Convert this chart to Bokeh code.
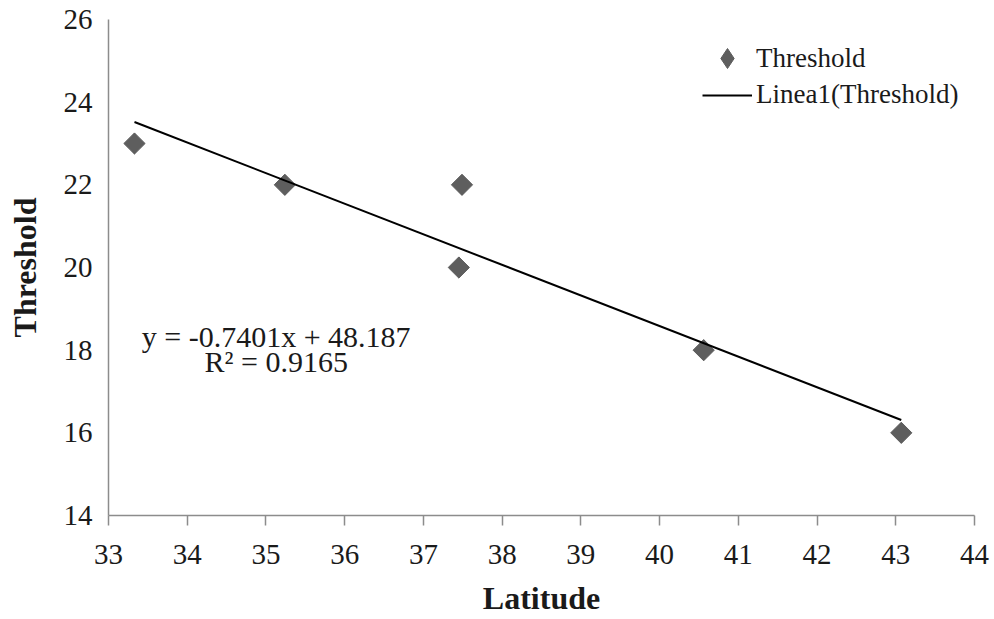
import math
from bokeh.plotting import figure
from bokeh.models import Range1d, FixedTicker, Label, Legend, LegendItem
from bokeh.embed import file_html
from bokeh.resources import INLINE

# ---- data ----
latitude = [33.33, 35.24, 37.49, 37.45, 40.56, 43.07]
threshold = [23, 22, 22, 20, 18, 16]
slope = -0.7401
intercept = 48.187
r_squared = 0.9165
x_ticks = list(range(33, 45))
y_ticks = list(range(14, 27, 2))

trend_x = [min(latitude), max(latitude)]
trend_y = [slope * v + intercept for v in trend_x]

FONT = "Liberation Serif"
TICK_FONT = "Times New Roman"
TXT = "#1a1a1a"
MARK = "#5e5e5e"

p = figure(width=994, height=619, output_backend="svg", toolbar_location=None,
           x_range=Range1d(33, 44), y_range=Range1d(14, 26),
           min_border_left=108, min_border_right=20, min_border_top=19, min_border_bottom=104)
p.outline_line_color = None
p.xgrid.visible = False
p.ygrid.visible = False
p.background_fill_color = "white"
p.border_fill_color = "white"

xa = p.xaxis[0]
xa.ticker = FixedTicker(ticks=x_ticks)
xa.axis_line_color = "#8c8c8c"
xa.axis_line_width = 1.5
xa.major_tick_line_color = "#8c8c8c"
xa.major_tick_line_width = 1.5
xa.major_tick_in = 0
xa.major_tick_out = 10
xa.minor_tick_line_color = None
xa.major_label_text_font = TICK_FONT
xa.major_label_text_font_size = "29px"
xa.major_label_text_color = TXT
xa.major_label_standoff = 19
xa.axis_label = "Latitude"
xa.axis_label_text_font = FONT
xa.axis_label_text_font_style = "bold"
xa.axis_label_text_font_size = "32px"
xa.axis_label_text_color = TXT
xa.axis_label_standoff = 13

ya = p.yaxis[0]
ya.ticker = FixedTicker(ticks=y_ticks)
ya.axis_line_color = "#8c8c8c"
ya.axis_line_width = 1.5
ya.major_tick_line_color = None
ya.major_tick_in = 0
ya.major_tick_out = 0
ya.minor_tick_line_color = None
ya.major_label_text_font = TICK_FONT
ya.major_label_text_font_size = "29px"
ya.major_label_text_color = TXT
ya.major_label_standoff = 16
ya.axis_label = "Threshold"
ya.axis_label_text_font = FONT
ya.axis_label_text_font_style = "bold"
ya.axis_label_text_font_size = "32px"
ya.axis_label_text_color = TXT
ya.axis_label_standoff = 18

# diamond glyph used for the legend entry (sits fully underneath the plotted markers)
legend_glyph = p.scatter(latitude, threshold, marker="diamond", size=20,
                         fill_color=MARK, line_color=MARK)
pts = p.scatter(latitude, threshold, marker="square", angle=math.pi / 4, size=15,
                fill_color=MARK, line_color=MARK)
ln = p.line(trend_x, trend_y, line_color="black", line_width=2)

p.add_layout(Label(x=35.13, y=17.94, text="y = -0.7401x + 48.187", text_align="center",
                   text_font=FONT, text_font_size="30px", text_color=TXT))
p.add_layout(Label(x=35.13, y=17.33, text=f"R² = {r_squared}", text_align="center",
                   text_font=FONT, text_font_size="30px", text_color=TXT))

legend_common = dict(margin=0, padding=0, spacing=0, glyph_width=50, label_standoff=4,
                     label_text_font=FONT, label_text_font_size="27px", label_text_color=TXT,
                     border_line_color=None, background_fill_alpha=0)
legend_a = Legend(items=[LegendItem(label="Threshold", renderers=[legend_glyph])],
                  location=(594, 432), glyph_height=50, label_height=50, **legend_common)
legend_b = Legend(items=[LegendItem(label="Linea1(Threshold)", renderers=[ln])],
                  location=(594, 405), glyph_height=30, label_height=30, **legend_common)
p.add_layout(legend_a)
p.add_layout(legend_b)

open("out.html", "w").write(file_html(p, INLINE))
